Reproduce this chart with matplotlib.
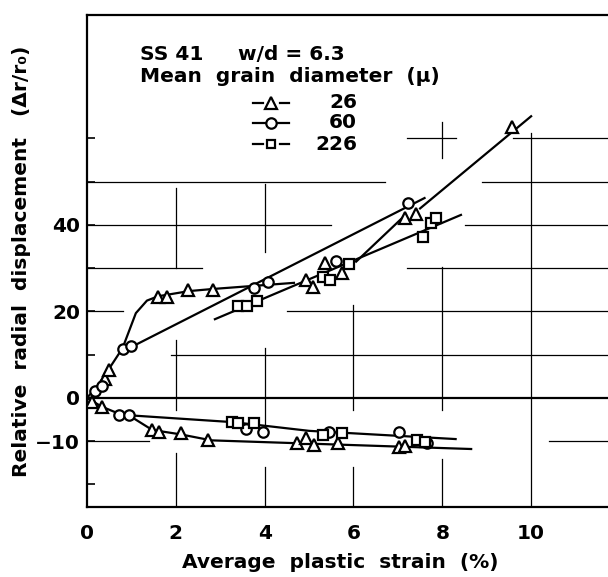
import numpy as np
import matplotlib.pyplot as plt
from matplotlib.lines import Line2D

# --- data ----------------------------------------------------------------
# upper branch (positive displacement)
tri_up_x = [0.40, 0.49, 1.59, 1.81, 2.28, 2.83, 4.92, 5.08, 5.37, 5.74, 7.17, 7.40, 9.57]
tri_up_y = [4.3, 6.5, 23.4, 23.3, 25.0, 25.0, 27.3, 25.6, 31.2, 28.9, 41.7, 42.6, 62.7]
cir_up_x = [0.18, 0.33, 0.80, 0.99, 3.75, 4.07, 5.60, 7.22]
cir_up_y = [1.5, 2.8, 11.2, 11.9, 25.5, 26.9, 31.7, 45.0]
sq_up_x = [3.39, 3.60, 3.83, 5.32, 5.48, 5.89, 7.56, 7.74, 7.85]
sq_up_y = [21.2, 21.2, 22.4, 28.0, 27.3, 30.9, 37.1, 40.5, 41.7]

# lower branch (negative displacement)
tri_lo_x = [0.12, 0.33, 1.47, 1.62, 2.12, 2.73, 4.72, 4.93, 5.12, 5.65, 7.02, 7.17]
tri_lo_y = [-1.0, -2.0, -7.4, -7.8, -8.2, -9.7, -10.5, -9.3, -10.9, -10.5, -11.3, -11.2]
cir_lo_x = [0.71, 0.94, 3.58, 3.96, 5.46, 7.02, 7.65]
cir_lo_y = [-3.9, -3.9, -7.2, -7.8, -7.8, -7.8, -10.4]
sq_lo_x = [3.26, 3.41, 3.75, 5.31, 5.75, 7.43, 7.62]
sq_lo_y = [-5.5, -5.8, -5.7, -8.5, -8.2, -9.7, -10.1]

# hand drawn curves through the points
fit_tri_up_x = [0, 0.25, 0.5, 0.8, 1.1, 1.35, 1.6, 2.3, 2.85, 4.66]
fit_tri_up_y = [0, 3.0, 6.8, 11.5, 19.6, 22.5, 23.5, 24.7, 25.2, 26.6]
fit_tri_up2_x = [6.06, 7.17]
fit_tri_up2_y = [31.5, 42.3]
fit_tri_up3_x = [7.50, 10.0]
fit_tri_up3_y = [43.8, 65.1]
fit_cir_up_x = [0.85, 7.60]
fit_cir_up_y = [11.0, 46.2]
fit_sq_up_x = [2.88, 8.42]
fit_sq_up_y = [18.2, 42.3]
fit_tri_lo_x = [0, 0.33, 0.71, 0.94, 1.47, 2.1, 2.8, 8.65]
fit_tri_lo_y = [0, -2.0, -3.6, -4.0, -7.4, -8.4, -9.8, -11.8]
fit_cir_lo_x = [0.94, 3.3, 5.0, 8.3]
fit_cir_lo_y = [-4.0, -5.6, -7.6, -9.5]

yticks = [-20, -10, 0, 10, 20, 30, 40, 50, 60]
ytick_labels = ['', '\u221210', '0', '', '20', '', '40', '', '']
xticks = [0, 2, 4, 6, 8, 10]

# broken grid of the original sheet: (level, from, to)
grid_h = [(-10, 0, 1.4), (-10, 10.4, 12), (10, 1.9, 12), (20, 0, 0.8), (20, 4.5, 12),
          (30, 0, 2.6), (30, 7.2, 12), (40, 0, 5.5), (40, 8.5, 12), (50, 0, 6.7),
          (50, 8.9, 12), (60, 7.2, 8.3), (60, 9.6, 12)]
grid_v = [(2, 30, 48.5), (2, -2.8, 13.4), (2, -26, -12.7), (4, 33.7, 49.5), (4, -6.7, 11.5),
          (4, -26, -16), (6, -2.8, 21.5), (6, -26, -16), (8, 55.4, 63.7), (8, -2.8, 30.3),
          (8, -26, -14), (10, -26, 61.2)]

# --- figure --------------------------------------------------------------
W, H = 608, 577
fig = plt.figure(figsize=(W / 100, H / 100), dpi=100)
ax = fig.add_axes([87 / W, 1 - 507 / H, 1 - 87 / W + 0.01, (507 - 15) / H])
ax.set_xlim(0, (W - 87) / 43.9)
ax.set_ylim(-25.2, 88.5)

FONT = dict(family='DejaVu Sans', fontweight='bold', fontsize=14.5)
LW = 1.6

for y, a, b in grid_h:
    ax.plot([a, b], [y, y], color='black', lw=0.9, zorder=1)
for x, a, b in grid_v:
    ax.plot([x, x], [a, b], color='black', lw=0.9, zorder=1)
ax.axhline(0, color='black', lw=1.6, zorder=1)

for fx, fy in [(fit_tri_up_x, fit_tri_up_y), (fit_tri_up2_x, fit_tri_up2_y),
               (fit_tri_up3_x, fit_tri_up3_y), (fit_cir_up_x, fit_cir_up_y),
               (fit_sq_up_x, fit_sq_up_y), (fit_tri_lo_x, fit_tri_lo_y),
               (fit_cir_lo_x, fit_cir_lo_y)]:
    ax.plot(fx, fy, color='black', lw=LW, zorder=2)

mk = dict(ls='none', mfc='white', mec='black', mew=1.6, zorder=3)
ax.plot(tri_up_x, tri_up_y, marker='^', ms=8, **mk)
ax.plot(tri_lo_x, tri_lo_y, marker='^', ms=8, **mk)
ax.plot(cir_up_x, cir_up_y, marker='o', ms=7.5, **mk)
ax.plot(cir_lo_x, cir_lo_y, marker='o', ms=7.5, **mk)
ax.plot(sq_up_x, sq_up_y, marker='s', ms=6.5, **mk)
ax.plot(sq_lo_x, sq_lo_y, marker='s', ms=6.5, **mk)

for s in ['left', 'bottom', 'top']:
    ax.spines[s].set_linewidth(1.6)
ax.spines['right'].set_visible(False)

ax.set_xticks(xticks)
ax.set_xticklabels([str(v) for v in xticks], **FONT)
ax.tick_params(axis='x', length=0, pad=12)
ax.set_yticks(yticks)
ax.set_yticklabels(ytick_labels, **FONT)
ax.tick_params(axis='y', direction='in', length=6, width=1.2, pad=5)

fig.text(340 / W, 1 - 563 / H, 'Average  plastic  strain  (%)', ha='center', va='center', **FONT)
fig.text(22 / W, 1 - 261 / H, 'Relative  radial  displacement   (\u0394r/r\u2080)',
         ha='center', va='center', rotation=90, **FONT)

# legend block drawn by hand like the original
fig.text(140 / W, 1 - 55 / H, 'SS 41', ha='left', va='center', **FONT)
fig.text(238 / W, 1 - 55 / H, 'w/d = 6.3', ha='left', va='center', **FONT)
fig.text(140 / W, 1 - 76 / H, 'Mean  grain  diameter  (\u03bc)', ha='left', va='center', **FONT)
rows = [('^', '26', 103, 8, True), ('o', '60', 123, 7.5, False), ('s', '226', 144, 5.5, True)]
for m, lab, py, ms, broken in rows:
    yy = 1 - py / H
    if broken:
        fig.add_artist(Line2D([253 / W, 263 / W], [yy, yy], color='black', lw=LW))
        fig.add_artist(Line2D([280 / W, 289 / W], [yy, yy], color='black', lw=LW))
    else:
        fig.add_artist(Line2D([253 / W, 289 / W], [yy, yy], color='black', lw=LW))
    fig.add_artist(Line2D([271 / W], [yy], marker=m, ms=ms, mfc='white', mec='black', mew=1.6))
    fig.text(357 / W, yy, lab, ha='right', va='center', **FONT)

fig.savefig('out.png', dpi=100)
